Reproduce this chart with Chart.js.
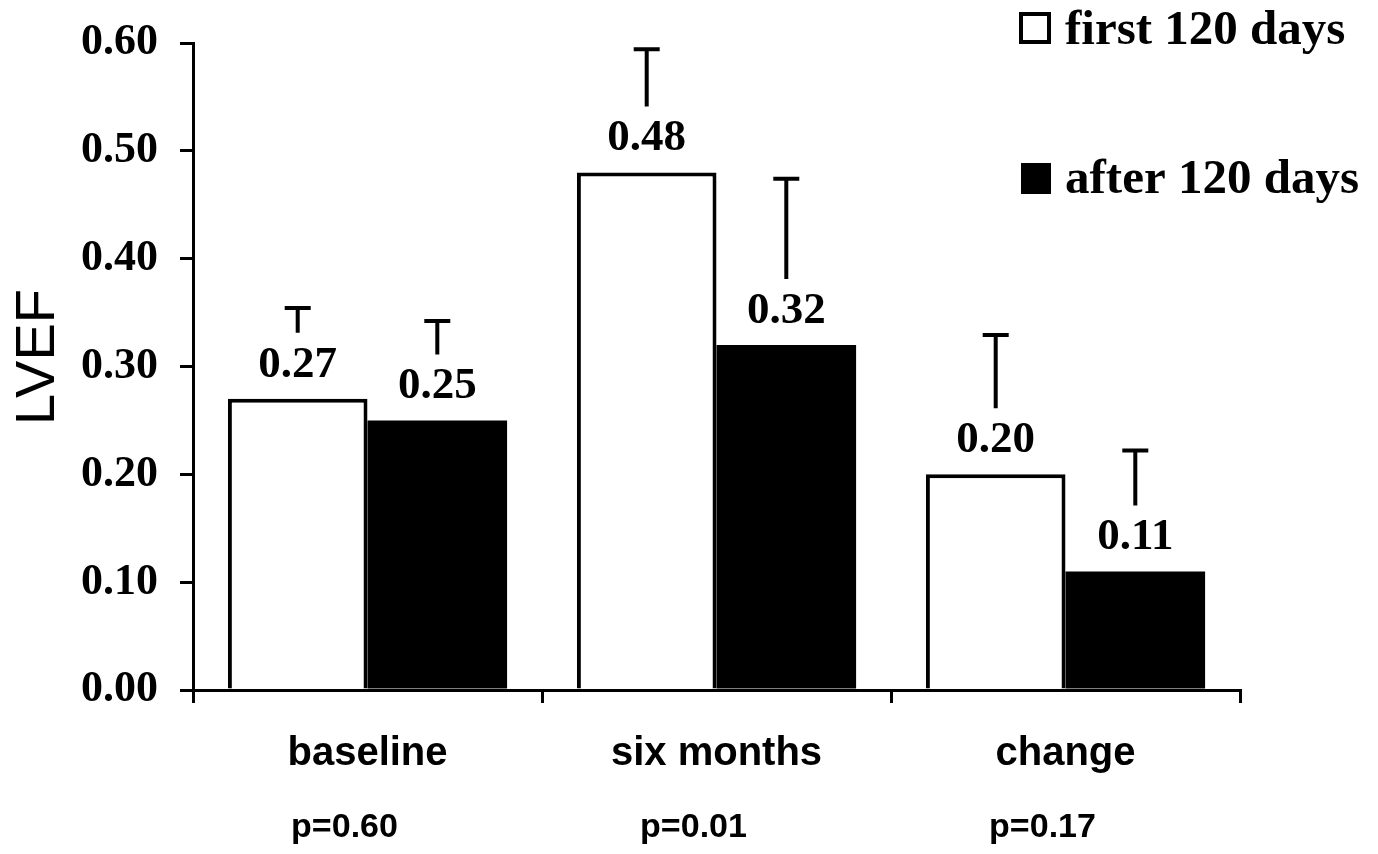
<!DOCTYPE html>
<html lang="en">
<head>
<meta charset="UTF-8">
<title>LVEF</title>
<script src="https://cdn.jsdelivr.net/npm/chart.js@4.4.0/dist/chart.umd.min.js"></script>
<style>
  html, body { margin: 0; padding: 0; background: #fff; }
  #chart { display: block; }
</style>
</head>
<body>
<canvas id="chart" width="1378" height="854"></canvas>
<script>
var categories = ['baseline', 'six months', 'change'];
var pValues = ['p=0.60', 'p=0.01', 'p=0.17'];
var seriesNames = ['first 120 days', 'after 120 days'];
var firstValues = [0.27, 0.48, 0.20];
var afterValues = [0.25, 0.32, 0.11];
// upper end of the error bars
var firstErrTop = [0.356, 0.596, 0.331];
var afterErrTop = [0.344, 0.476, 0.224];
var yTicks = [0, 0.1, 0.2, 0.3, 0.4, 0.5, 0.6];

var extras = {
    id: 'extras',
    afterDatasetsDraw: function(chart) {
        var ctx = chart.ctx;
        var y = chart.scales.y;
        var tops = [firstErrTop, afterErrTop];
        ctx.save();
        chart.data.datasets.forEach(function(ds, i) {
            var meta = chart.getDatasetMeta(i);
            meta.data.forEach(function(bar, j) {
                var labelBase = bar.y - 22;
                var capY = y.getPixelForValue(tops[i][j]) + 2;
                var stemEnd = labelBase - 30 - 14;
                ctx.strokeStyle = '#000';
                ctx.lineWidth = 4;
                ctx.beginPath();
                ctx.moveTo(bar.x - 13, capY);
                ctx.lineTo(bar.x + 13, capY);
                ctx.moveTo(bar.x, capY);
                ctx.lineTo(bar.x, stemEnd);
                ctx.stroke();

                ctx.font = 'bold 45px "Liberation Serif"';
                ctx.textAlign = 'center';
                ctx.textBaseline = 'alphabetic';
                ctx.fillStyle = '#000';
                ctx.fillText(ds.data[j].toFixed(2), bar.x, labelBase);
            });
        });
        ctx.restore();
    },
    afterDraw: function(chart) {
        var ctx = chart.ctx;
        var x = chart.scales.x;
        ctx.save();
        ctx.fillStyle = '#000';
        ctx.textBaseline = 'alphabetic';

        // category labels and p values
        ctx.textAlign = 'center';
        categories.forEach(function(c, j) {
            var cx = x.getPixelForValue(j);
            ctx.font = 'bold 40px "Liberation Sans"';
            ctx.fillText(c, cx, 765);
            ctx.font = 'bold 34px "Liberation Sans"';
            ctx.fillText(pValues[j], cx - 23, 837);
        });

        // y axis title
        ctx.save();
        ctx.translate(54, 357);
        ctx.rotate(-Math.PI / 2);
        ctx.font = '56px "Liberation Sans"';
        ctx.fillText('LVEF', 0, 0);
        ctx.restore();

        // legend
        ctx.textAlign = 'left';
        ctx.font = 'bold 49px "Liberation Serif"';
        ctx.strokeStyle = '#000';
        ctx.lineWidth = 4;
        ctx.strokeRect(1021, 14, 28, 28);
        ctx.fillText(seriesNames[0], 1065, 44);
        ctx.fillRect(1021, 163, 30, 31);
        ctx.fillText(seriesNames[1], 1065, 193);
        ctx.restore();
    }
};

var ctx = document.getElementById('chart').getContext('2d');
var chart = new Chart(ctx, {
    type: 'bar',
    data: {
        labels: categories,
        datasets: [{
            label: seriesNames[0],
            data: firstValues,
            backgroundColor: '#fff',
            borderColor: '#000',
            borderWidth: 4
        }, {
            label: seriesNames[1],
            data: afterValues,
            backgroundColor: '#000',
            borderColor: '#000',
            borderWidth: 0
        }]
    },
    options: {
        responsive: false,
        animation: false,
        categoryPercentage: 0.8,
        barPercentage: 1.0,
        layout: { padding: { top: 43, right: 138, left: 0, bottom: 0 } },
        plugins: {
            legend: { display: false },
            tooltip: { enabled: false }
        },
        scales: {
            x: {
                grid: { display: true, drawOnChartArea: false, drawTicks: true, tickLength: 13, color: '#000', lineWidth: 3, offset: true },
                border: { display: true, color: '#000', width: 3 },
                ticks: { display: false },
                afterFit: function(s) { s.height = 164; }
            },
            y: {
                min: 0,
                max: 0.6,
                afterBuildTicks: function(s) {
                    s.ticks = yTicks.map(function(v) { return { value: v }; });
                },
                grid: { display: true, drawOnChartArea: false, drawTicks: true, tickLength: 13, color: '#000', lineWidth: 3 },
                border: { display: true, color: '#000', width: 3 },
                ticks: {
                    color: '#000',
                    padding: 22,
                    font: { family: 'Liberation Serif', weight: 'bold', size: 44 },
                    callback: function(v) { return Number(v).toFixed(2); }
                },
                afterFit: function(s) {
                    s.width = 193;
                    s.paddingTop = 0;
                    s.paddingBottom = 0;
                }
            }
        }
    },
    plugins: [extras]
});
</script>
</body>
</html>
